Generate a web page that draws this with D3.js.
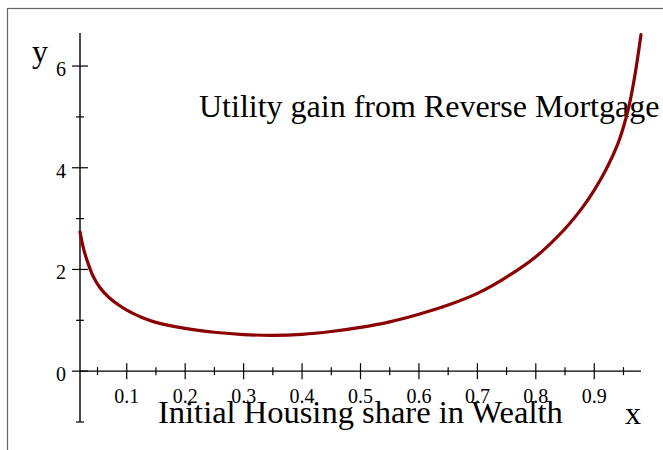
<!DOCTYPE html>
<html>
<head>
<meta charset="utf-8">
<script src="https://cdn.jsdelivr.net/npm/d3@7"></script>
<style>
  body { margin: 0; background: #ffffff; }
  text { font-family: "Liberation Serif", "Times New Roman", serif; fill: #000; }
</style>
</head>
<body>
<div id="chart"></div>
<script>
// utility gain vs initial housing share
const shareX = [0.02, 0.025, 0.03, 0.035, 0.04, 0.045, 0.05, 0.055, 0.06, 0.065, 0.07, 0.085,
                0.1, 0.125, 0.15, 0.2, 0.25, 0.3, 0.35, 0.4, 0.45, 0.5, 0.55, 0.6, 0.65, 0.7,
                0.75, 0.8, 0.85, 0.88, 0.9, 0.92, 0.94, 0.95, 0.96, 0.97, 0.98];
const utilityGain = [2.74, 2.46, 2.25, 2.08, 1.93, 1.81, 1.71, 1.63, 1.56, 1.50, 1.445, 1.31,
                     1.20, 1.06, 0.96, 0.84, 0.765, 0.72, 0.705, 0.725, 0.78, 0.86, 0.97, 1.12, 1.30, 1.53,
                     1.85, 2.25, 2.80, 3.22, 3.56, 3.96, 4.46, 4.8, 5.24, 5.85, 6.62];

const xMajor = [0.1, 0.2, 0.3, 0.4, 0.5, 0.6, 0.7, 0.8, 0.9];
const xMinor = [0.05, 0.15, 0.25, 0.35, 0.45, 0.55, 0.65, 0.75, 0.85, 0.95];
const yMajor = [0, 2, 4, 6];
const yMinor = [-1, 1, 3, 5];

const titleText = "Utility gain from Reverse Mortgage";
const xTitle = "Initial Housing share in Wealth";

const width = 663, height = 450;

const svg = d3.select("#chart")
    .append("svg")
    .attr("width", width)
    .attr("height", height)
    .style("background-color", "#ffffff");

// outer frame
svg.append("rect")
    .attr("x", 7.5).attr("y", 8.5)
    .attr("width", 700).attr("height", 500)
    .attr("fill", "none")
    .attr("stroke", "#666")
    .attr("stroke-width", 1.2);

const xScale = d3.scaleLinear().domain([0.02, 0.98]).range([80, 641]);
const yScale = d3.scaleLinear().domain([-1, 6.65]).range([422, 33]);

const x0 = xScale(0.02), y0 = yScale(0);

// axis lines
svg.append("line")
    .attr("x1", xScale(0.02)).attr("x2", xScale(0.98))
    .attr("y1", y0).attr("y2", y0)
    .attr("stroke", "#000").attr("stroke-width", 1.4);
svg.append("line")
    .attr("x1", x0).attr("x2", x0)
    .attr("y1", yScale(-1)).attr("y2", yScale(6.65))
    .attr("stroke", "#000").attr("stroke-width", 1.4);

// x ticks
svg.selectAll(".xmaj").data(xMajor).enter().append("line")
    .attr("class", "xmaj")
    .attr("x1", d => xScale(d)).attr("x2", d => xScale(d))
    .attr("y1", y0 - 8).attr("y2", y0 + 8)
    .attr("stroke", "#000").attr("stroke-width", 1.2);
svg.selectAll(".xmin").data(xMinor).enter().append("line")
    .attr("class", "xmin")
    .attr("x1", d => xScale(d)).attr("x2", d => xScale(d))
    .attr("y1", y0 - 4).attr("y2", y0 + 4)
    .attr("stroke", "#000").attr("stroke-width", 1.2);
svg.selectAll(".xlab").data(xMajor).enter().append("text")
    .attr("class", "xlab")
    .attr("x", d => xScale(d))
    .attr("y", 403)
    .attr("text-anchor", "middle")
    .style("font-size", "20px")
    .text(d => d3.format(".1f")(d));

// y ticks
svg.selectAll(".ymaj").data(yMajor).enter().append("line")
    .attr("class", "ymaj")
    .attr("x1", x0 - 8).attr("x2", x0 + 8)
    .attr("y1", d => yScale(d)).attr("y2", d => yScale(d))
    .attr("stroke", "#000").attr("stroke-width", 1.2);
svg.selectAll(".ymin").data(yMinor).enter().append("line")
    .attr("class", "ymin")
    .attr("x1", x0 - 4).attr("x2", x0 + 4)
    .attr("y1", d => yScale(d)).attr("y2", d => yScale(d))
    .attr("stroke", "#000").attr("stroke-width", 1.2);
svg.selectAll(".ylab").data(yMajor).enter().append("text")
    .attr("class", "ylab")
    .attr("x", 66)
    .attr("y", d => yScale(d) + 10)
    .attr("text-anchor", "end")
    .style("font-size", "20px")
    .text(d => d);

// axis names and title (the x title overlaps the tick labels, as in the original)
svg.append("text").attr("x", 32).attr("y", 62)
    .style("font-size", "32px").text("y");
svg.append("text").attr("x", 625).attr("y", 424)
    .style("font-size", "32px").text("x");
svg.append("text").attr("x", 199).attr("y", 117)
    .style("font-size", "32px").text(titleText);
svg.append("text").attr("x", 158).attr("y", 423)
    .style("font-size", "32.5px").text(xTitle);

// the curve, drawn on top
const line = d3.line()
    .x((d, i) => xScale(shareX[i]))
    .y(d => yScale(d))
    .curve(d3.curveCatmullRom.alpha(0.5));

svg.append("path")
    .datum(utilityGain)
    .attr("d", line)
    .attr("fill", "none")
    .attr("stroke", "#8b0000")
    .attr("stroke-width", 3.2)
    .attr("stroke-linecap", "round");
</script>
</body>
</html>
